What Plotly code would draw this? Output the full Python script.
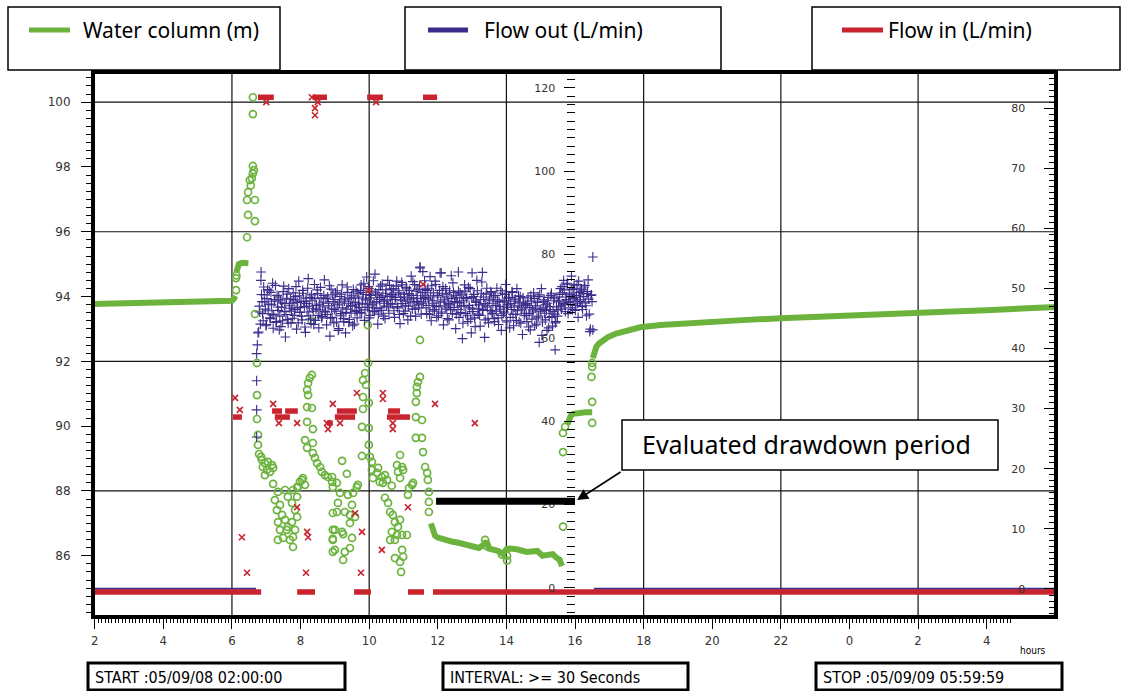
import numpy as np
import plotly.graph_objects as go

# ---------------- axis text ----------------
x_tickvals = [2, 4, 6, 8, 10, 12, 14, 16, 18, 20, 22, 24, 26, 28]
x_ticktext = ["2", "4", "6", "8", "10", "12", "14", "16", "18", "20", "22", "0", "2", "4"]
grid_hours = [6, 10, 14, 18, 22, 26]
grid_levels = [88, 92, 96, 100]

# ---------------- Water column (m), left axis ----------------
wc_line_x = [1.95, 3.0, 4.0, 5.0, 5.8, 6.0, 6.06, 6.1, None,
             6.13, 6.16, 6.2, 6.3, 6.4, 6.48, None,
             11.8, 11.85, 11.92, 12.0, 12.15, 12.4, 12.6, 12.9, 13.2, 13.35, 13.42, 13.5, 13.75,
             13.9, 14.0, 14.1, 14.3, 14.6, 14.9, 15.05, 15.2, 15.35, 15.45, 15.55, 15.62, None,
             15.78, 15.82, 15.88, 15.95, 16.1, 16.3, 16.5, None,
             16.52, 16.56, 16.62, 16.7, 16.8, 16.95, 17.2, 17.5, 17.9, 18.5, 19, 20, 21, 22,
             23, 24, 25, 26, 27, 28, 29, 30.05]
wc_line_y = [93.77, 93.79, 93.81, 93.83, 93.85, 93.87, 93.93, 94.02, None,
             94.75, 94.92, 95.0, 95.04, 95.04, 95.03, None,
             87.0, 86.8, 86.62, 86.56, 86.5, 86.44, 86.4, 86.3, 86.24, 86.35, 86.45, 86.22, 86.15,
             86.05, 86.2, 86.22, 86.2, 86.12, 86.15, 86.0, 86.02, 86.05, 85.95, 85.88, 85.68, None,
             90.05, 90.25, 90.33, 90.38, 90.42, 90.43, 90.43, None,
             92.1, 92.3, 92.45, 92.55, 92.65, 92.74, 92.86, 92.96, 93.05, 93.12, 93.16, 93.22, 93.28, 93.33,
             93.38, 93.42, 93.46, 93.5, 93.54, 93.58, 93.63, 93.68]

wc_pts_x = [6.12, 6.12, 6.13, 6.44, 6.47, 6.67, 6.44, 6.67, 6.47, 6.55, 6.52, 6.58, 6.61, 6.64, 6.61, 6.61, 6.61,
            6.67, 8.32, 9.96, 11.48,
            6.73, 6.73, 6.73, 6.76, 6.76, 6.79, 6.87, 6.96, 7.05, 7.17, 6.9, 7.02, 7.11, 6.96, 7.2, 6.85,
            7.2, 7.34, 7.25, 7.4, 7.31, 7.46, 7.34, 7.55, 7.4, 7.6, 7.49, 7.69, 7.78, 7.84, 7.63, 7.75, 7.9,
            7.84, 7.75, 7.63, 7.9, 7.78, 7.55, 7.9, 7.98, 8.07, 7.34, 7.78, 8.04, 8.13, 7.92,
            8.19, 8.13, 8.36, 8.19, 8.36, 8.33, 8.19, 8.22, 8.19, 8.22, 8.27, 8.33,
            8.36, 8.42, 8.48, 8.57, 8.62, 8.71, 8.8, 8.92, 8.94, 8.94, 8.94, 8.94, 8.94,
            9.97, 9.88, 9.82, 9.91, 9.82, 9.99, 9.82, 9.79, 9.99, 9.99, 9.79, 10.02, 10.08,
            9.21, 9.35, 8.92, 9.06, 9.15, 9.67, 9.64, 9.53, 9.38, 9.09, 9.06, 9.29, 9.5, 9.44, 9.59,
            9.0, 9.21, 9.44, 9.5, 8.94, 9.24, 9.0, 9.29, 9.44, 9.24,
            10.08, 10.23, 10.37, 10.11, 10.31, 10.46, 10.26, 10.52, 10.4,
            10.9, 10.81, 10.96, 10.84, 10.99, 10.9, 10.66,
            11.25, 11.28, 11.16, 11.13,
            10.46, 10.55, 10.61, 10.69, 10.75, 10.9, 10.84, 10.66, 10.81, 10.96, 11.1, 10.61, 10.75,
            10.96, 10.99, 10.75, 10.9, 10.93,
            11.48, 11.42, 11.39, 11.39, 11.36, 11.36, 11.54, 11.36, 11.54,
            11.57, 11.63, 11.69, 11.71, 11.74, 11.74, 11.74,
            13.38, 13.42, 14.02, 14.02, 13.87,
            15.65, 15.65, 15.65, 15.71, 16.5, 16.5, 16.48, 16.5, 16.5]
wc_pts_y = [94.2, 94.57, 94.65, 95.83, 96.52, 96.33, 96.98, 96.98, 97.22, 97.43, 97.59, 97.65, 97.8, 97.9, 98.03, 99.63, 100.15,
            93.46, 93.25, 93.12, 92.66,
            91.95, 90.96, 90.22, 89.73, 89.42, 89.14, 88.96, 88.86, 88.9, 88.8, 88.74, 88.65, 88.59, 88.49, 88.71, 89.05,
            88.22, 87.97, 87.72, 87.57, 87.41, 87.26, 87.04, 87.11, 86.8, 86.8, 86.55, 86.49, 86.58, 86.8, 86.89, 87.04, 87.2,
            87.41, 87.63, 87.82, 87.82, 88.03, 88.03, 88.12, 88.28, 88.4, 86.49, 86.27, 88.34, 88.19, 88.12,
            89.33, 89.57, 89.48, 90.13, 89.91, 90.56, 90.59, 90.96, 91.12, 91.33, 91.49, 91.58,
            89.17, 89.02, 88.86, 88.74, 88.59, 88.49, 88.43, 88.28, 88.12, 87.32, 86.8, 86.49, 86.12,
            91.95, 91.64, 91.42, 91.27, 90.9, 90.72, 90.53, 89.98, 89.94, 89.42, 89.08, 89.05, 88.9,
            88.93, 88.53, 88.43, 88.25, 87.94, 88.19, 88.12, 87.94, 87.88, 87.63, 87.35, 87.35, 87.57, 87.26, 87.2,
            86.8, 86.74, 87.01, 86.55, 86.52, 86.67, 86.18, 86.12, 86.24, 85.87,
            88.65, 88.56, 88.43, 88.4, 88.28, 88.49, 88.71, 88.34, 88.25,
            89.11, 88.8, 88.74, 88.59, 88.65, 88.4, 88.16,
            88.19, 88.25, 88.09, 87.88,
            87.79, 87.63, 87.35, 87.26, 87.04, 87.11, 86.89, 86.74, 86.64, 86.64, 86.64, 86.49, 86.49,
            86.18, 85.97, 85.93, 85.81, 85.5,
            91.52, 91.36, 91.21, 91.02, 90.75, 90.28, 90.19, 89.64, 89.64,
            89.2, 88.74, 88.56, 88.34, 87.97, 87.66, 87.35,
            86.49, 86.3, 86.0, 85.85, 86.03,
            86.9, 89.2, 89.79, 89.98, 90.1, 90.75, 91.52, 91.83, 91.95]

# ---------------- Flow out (L/min), middle axis ----------------
fout_base_x = [1.95, 6.7, None, 16.55, 30.05]
fout_base_y = [-0.2, -0.2, None, -0.2, -0.2]
fout_rise_x = [6.72, 6.72, 6.72, 6.72, 6.74, 6.76]
fout_rise_y = [36.2, 42.7, 49.7, 56.2, 58.3, 61.2]
# pumping period readings: two interleaved logger channels sampled at a fixed interval
fout_start_a, fout_start_b, fout_end_a, fout_end_b = 6.78, 6.796, 16.48, 16.496
fout_cloud_a = [
    61.4, 66.2, 73.8, 68.7, 64.1, 70.3, 66.9, 63.2, 71.6, 68.1, 64.8, 70.9, 65.7, 62.3, 69.2, 72.6, 63.9, 67.4, 69.8, 65.2, 62.7, 68.4, 71.1, 66.3, 60.2, 69.5, 64.4, 71.8, 67.1, 63.6,
    68.3, 70.8, 65.4, 69.9, 62.1, 67.2, 73.6, 66.1, 68.8, 64.3, 70.7, 67.5, 61.3, 68.2, 71.9, 65.3, 69.7, 63.4, 68.9, 66.4, 72.8, 64.2, 67.8, 70.6, 62.4, 66.7, 69.6, 65.1, 68.6, 73.9,
    66.2, 63.1, 69.8, 67.7, 60.4, 71.7, 64.9, 68.7, 66.8, 70.8, 63.8, 67.9, 62.2, 69.9, 65.8, 72.7, 64.6, 68.8, 61.2, 66.9, 70.9, 63.7, 69.6, 65.9, 67.8, 71.6, 63.3, 68.5, 66.6, 70.7,
    69.8, 66.1, 72.7, 68.3, 70.9, 64.2, 69.1, 74.6, 67.3, 71.8, 65.4, 70.2, 67.9, 73.7, 66.3, 70.8, 68.7, 63.3, 71.6, 67.2, 69.7, 72.9, 65.2, 68.8, 70.7, 67.6, 73.8, 65.9, 69.9, 71.7,
    68.1, 71.8, 64.9, 69.7, 73.6, 67.2, 70.8, 63.4, 68.9, 72.7, 65.8, 69.8, 67.7, 71.9, 64.3, 70.6, 68.8, 74.8, 66.9, 69.6, 72.8, 65.2, 68.7, 71.7, 67.9, 76.8, 65.7, 70.9, 68.6, 73.7,
    69.7, 65.8, 71.9, 67.8, 74.7, 64.1, 68.9, 70.8, 66.8, 72.8, 64.9, 69.8, 67.7, 75.6, 65.9, 70.7, 63.1, 68.6, 71.8, 66.9, 69.8, 64.3, 67.9, 74.9, 65.8, 70.9, 68.7, 62.2, 69.6, 66.8,
    64.9, 70.8, 67.7, 59.8, 68.9, 72.7, 65.8, 69.7, 63.9, 67.8, 71.8, 61.2, 66.9, 69.9, 64.8, 68.8, 73.8, 65.7, 67.9, 62.8, 70.7, 66.8, 69.8, 60.1, 67.7, 71.9, 64.7, 68.9, 66.6, 70.8,
    65.8, 69.8, 63.9, 67.8, 71.9, 64.8, 68.7, 66.9, 61.8, 70.7, 65.9, 68.9, 72.8, 63.8, 67.9, 69.7, 64.9, 66.8, 70.9, 62.9, 68.8, 65.7, 71.8, 67.7, 63.8, 69.9, 66.7, 60.8, 68.6, 65.9,
    67.8, 63.9, 69.8, 65.8, 61.9, 68.8, 66.7, 70.8, 62.9, 67.7, 64.8, 69.9, 58.9, 66.8, 71.8, 63.8, 68.7, 65.9, 67.9, 61.8, 69.7, 64.9, 66.8, 70.7, 62.8, 68.9, 65.7, 63.9, 69.8, 66.7,
    68.9, 71.8, 66.9, 70.8, 73.8, 67.9, 69.8, 72.9, 65.8, 70.7, 68.8, 74.8, 66.8, 71.9, 69.7, 67.8, 72.8, 64.9, 70.9, 68.7, 71.7, 66.8, 69.9, 72.6, 67.7, 70.6, 73.9, 65.7, 62.1, 70.3]
fout_cloud_b = [
    67.6, 63.3, 70.4, 65.8, 72.2, 68.6, 62.9, 69.4, 66.5, 71.3, 64.6, 67.9, 73.1, 65.5, 68.8, 63.7, 70.2, 66.6, 61.9, 69.1, 67.3, 64.1, 72.4, 68.2, 65.6, 70.5, 63.5, 67.7, 69.3, 66.4,
    64.7, 69.1, 66.8, 72.3, 68.5, 63.6, 70.1, 67.3, 65.2, 71.4, 68.7, 62.6, 69.5, 66.2, 74.2, 67.6, 64.5, 70.3, 67.1, 63.2, 69.4, 66.9, 71.5, 65.4, 68.1, 72.1, 64.8, 67.4, 70.2, 66.3,
    69.4, 65.6, 68.3, 72.5, 64.7, 67.1, 70.3, 63.6, 69.2, 66.4, 71.3, 61.8, 68.4, 65.3, 70.5, 67.2, 63.9, 69.3, 66.1, 72.2, 68.3, 64.4, 67.6, 70.1, 62.9, 69.5, 66.3, 71.2, 64.8, 68.1,
    67.3, 71.4, 65.9, 69.5, 73.1, 66.7, 70.4, 68.1, 72.3, 64.8, 69.6, 71.2, 66.5, 68.4, 75.3, 67.1, 70.3, 65.7, 69.2, 72.4, 66.6, 70.1, 68.3, 64.6, 71.5, 69.1, 67.4, 72.6, 68.2, 70.4,
    70.3, 66.5, 69.2, 72.4, 67.5, 71.3, 65.6, 69.7, 73.3, 68.2, 70.5, 66.4, 72.1, 69.3, 67.6, 71.4, 65.2, 70.2, 73.5, 68.4, 66.9, 71.2, 69.4, 67.2, 72.5, 70.1, 68.3, 75.9, 69.5, 71.6,
    67.2, 71.4, 69.3, 65.6, 70.1, 72.5, 66.4, 68.3, 73.6, 67.5, 70.2, 65.3, 71.4, 68.6, 66.2, 72.3, 69.1, 67.4, 70.5, 64.6, 68.2, 71.3, 66.7, 69.4, 73.2, 67.3, 70.1, 65.7, 68.5, 71.2,
    68.4, 66.1, 70.3, 63.5, 67.6, 71.2, 69.4, 65.3, 72.1, 67.2, 64.5, 69.6, 66.3, 70.4, 62.7, 68.5, 71.3, 67.1, 65.4, 69.2, 73.4, 66.6, 68.2, 64.3, 70.5, 67.4, 63.6, 69.3, 71.1, 66.2,
    68.3, 64.6, 70.2, 66.4, 69.1, 63.2, 67.5, 71.3, 65.4, 68.6, 66.2, 70.4, 64.1, 67.3, 69.5, 62.4, 68.2, 71.1, 65.6, 67.4, 69.3, 64.2, 66.5, 70.1, 68.4, 63.5, 67.2, 69.6, 65.3, 68.1,
    65.4, 68.2, 62.6, 67.3, 70.1, 64.5, 66.2, 69.4, 67.1, 63.3, 68.5, 65.2, 70.3, 66.4, 60.6, 67.2, 69.1, 64.3, 66.6, 68.3, 62.4, 67.5, 70.2, 65.1, 66.3, 69.5, 63.6, 67.4, 65.2, 68.6,
    70.4, 67.6, 72.3, 68.2, 71.5, 66.3, 69.2, 73.1, 68.5, 70.3, 67.2, 71.6, 69.4, 72.5, 66.6, 70.2, 68.3, 73.6, 69.1, 71.2, 67.5, 70.6, 72.2, 68.4, 65.3, 71.1, 69.3, 61.5, 70.2, 68.7]
fout_extra_x = [15.42, 16.52, 16.52, 6.85, 11.48, 12.1, 12.6, 13.0, 13.3]
fout_extra_y = [57.1, 79.4, 61.9, 75.8, 77.0, 75.6, 75.8, 75.6, 75.7]

# ---------------- Flow in (L/min), right axis ----------------
fin_run_x = [1.95, 6.85, None, 7.9, 8.42, None, 9.56, 10.05, None, 11.13, 11.6, None, 11.86, 30.05, None,
             6.76, 7.22, None, 8.35, 8.77, None, 9.94, 10.4, None, 11.57, 11.98, None,
             6.03, 6.29, None, 7.17, 7.46, None, 7.25, 7.69, None, 7.55, 7.92, None,
             9.06, 9.64, None, 9.0, 9.59, None, 8.77, 8.94, None, 10.55, 10.9, None, 10.52, 11.19]
fin_run_y = [-0.5, -0.5, None, -0.5, -0.5, None, -0.5, -0.5, None, -0.5, -0.5, None, -0.5, -0.5, None,
             81.8, 81.8, None, 81.8, 81.8, None, 81.8, 81.8, None, 81.8, 81.8, None,
             28.6, 28.6, None, 29.6, 29.6, None, 28.6, 28.6, None, 29.6, 29.6, None,
             29.6, 29.6, None, 28.6, 28.6, None, 27.6, 27.6, None, 29.6, 29.6, None, 28.6, 28.6]
fin_pts_x = [6.09, 6.23, 7.2, 7.37, 7.9, 7.9, 8.19, 8.22, 6.29, 6.44, 8.16, 9.76, 9.79, 9.59, 10.37, 11.13,
             9.99, 11.57, 8.94, 9.15, 9.64, 10.4, 10.4, 10.69, 10.69, 11.92, 13.08, 8.33, 8.42, 8.42,
             8.5, 7.0, 10.2, 8.77, 8.8]
fin_pts_y = [31.8, 29.8, 30.8, 27.6, 27.6, 13.6, 9.5, 8.6, 8.6, 2.7, 2.7, 2.7, 9.5, 12.6, 6.5, 13.6,
             49.7, 50.7, 30.8, 27.6, 32.6, 32.6, 31.6, 27.6, 26.6, 30.8, 27.6, 81.8, 80.0, 78.8,
             81.0, 81.0, 81.0, 27.6, 26.6]

eval_x = [11.95, 16.0]
eval_level = 87.68

# ---------------- styling ----------------
GREEN = "#6cb33e"
BLUE = "#3a2d8c"
RED = "#c8232f"
TICKF = dict(family="DejaVu Sans, Verdana, sans-serif", size=11, color="#333333")
NARROW = "Liberation Sans Narrow, DejaVu Sans Condensed, Arial Narrow, sans-serif"
LEGF = "Noto Sans, Open Sans, sans-serif"

L, R, T, B = 93, 1056, 72, 617


def pxx(x):
    return (x - L) / (R - L)


def pxy(y):
    return (B - y) / (B - T)


t_a = np.linspace(fout_start_a, fout_end_a, len(fout_cloud_a))
t_b = np.linspace(fout_start_b, fout_end_b, len(fout_cloud_b))

fig = go.Figure()
fig.add_trace(go.Scatter(x=wc_line_x, y=wc_line_y, mode="lines", line=dict(color=GREEN, width=6),
                         yaxis="y", showlegend=False, hoverinfo="skip"))
fig.add_trace(go.Scatter(x=wc_pts_x, y=wc_pts_y, mode="markers",
                         marker=dict(symbol="circle-open", size=7, color=GREEN, line=dict(width=1.7, color=GREEN)),
                         yaxis="y", showlegend=False))
fig.add_trace(go.Scatter(x=fout_base_x, y=fout_base_y, mode="lines", line=dict(color=BLUE, width=2),
                         yaxis="y2", showlegend=False))
fig.add_trace(go.Scatter(x=list(t_a) + list(t_b) + fout_rise_x + fout_extra_x,
                         y=fout_cloud_a + fout_cloud_b + fout_rise_y + fout_extra_y, mode="markers",
                         marker=dict(symbol="cross-thin", size=7, color=BLUE, line=dict(width=1.1, color=BLUE)),
                         yaxis="y2", showlegend=False))
fig.add_trace(go.Scatter(x=fin_run_x, y=fin_run_y, mode="lines", line=dict(color=RED, width=5.5),
                         yaxis="y3", showlegend=False))
fig.add_trace(go.Scatter(x=fin_pts_x, y=fin_pts_y, mode="markers",
                         marker=dict(symbol="x-thin", size=6, color=RED, line=dict(width=1.6, color=RED)),
                         yaxis="y3", showlegend=False))

shapes = []
for h in grid_hours:
    shapes.append(dict(type="line", xref="x", yref="paper", x0=h, x1=h, y0=0, y1=1,
                       line=dict(color="#111111", width=1.2), layer="below"))
for lv in grid_levels:
    shapes.append(dict(type="line", xref="paper", yref="y", x0=0, x1=1, y0=lv, y1=lv,
                       line=dict(color="#111111", width=1.2), layer="below"))
shapes.append(dict(type="rect", xref="paper", yref="paper", x0=0, x1=1, y0=0, y1=1,
                   line=dict(color="black", width=4), fillcolor="rgba(0,0,0,0)", layer="above"))
shapes.append(dict(type="line", xref="x", yref="y", x0=eval_x[0], x1=eval_x[1], y0=eval_level, y1=eval_level,
                   line=dict(color="black", width=7), layer="above"))


def box(x0, y0, x1, y1, w, fill="white"):
    shapes.append(dict(type="rect", xref="paper", yref="paper", x0=pxx(x0), x1=pxx(x1), y0=pxy(y1), y1=pxy(y0),
                       line=dict(color="black", width=w), fillcolor=fill, layer="above"))


def seg(x0, x1, y, color, w):
    shapes.append(dict(type="line", xref="paper", yref="paper", x0=pxx(x0), x1=pxx(x1), y0=pxy(y), y1=pxy(y),
                       line=dict(color=color, width=w), layer="above"))


annotations = []


def text(x, y, s, size, family, anchor="left", color="black"):
    annotations.append(dict(xref="paper", yref="paper", x=pxx(x), y=pxy(y), text=s, showarrow=False,
                            xanchor=anchor, yanchor="middle", font=dict(size=size, family=family, color=color)))


legend_items = [("Water column (m)", GREEN, 8, 280, 29, 70, 81),
                ("Flow out (L/min)", BLUE, 405, 721, 428, 468, 482),
                ("Flow in (L/min)", RED, 812, 1120, 842, 883, 886)]
for name, col, bx0, bx1, lx0, lx1, tx in legend_items:
    box(bx0, 7, bx1, 70, 1.5)
    seg(lx0, lx1, 30, col, 5)
    text(tx, 30, name, 21, LEGF)

info = [("START :05/09/08 02:00:00", 88, 345), ("INTERVAL: &gt;= 30 Seconds", 443, 688),
        ("STOP :05/09/09 05:59:59", 816, 1062)]
for s, bx0, bx1 in info:
    box(bx0, 663, bx1, 690, 3)
    text(bx0 + 5, 677, s, 16, NARROW)

text(1033, 651, "hours", 10, NARROW, anchor="center")

box(622, 420, 998, 470, 1.5)
text(806, 444, "Evaluated drawdown period", 25, LEGF, anchor="center")
annotations.append(dict(xref="x", yref="y", x=16.06, y=87.72, ax=45, ay=-29, text="", showarrow=True,
                        arrowhead=2, arrowsize=1.4, arrowwidth=1.6, arrowcolor="black"))

fig.update_layout(
    width=1130, height=691,
    margin=dict(l=L, r=1130 - R, t=T, b=691 - B),
    paper_bgcolor="white", plot_bgcolor="white",
    showlegend=False,
    xaxis=dict(range=[1.95, 30.02], tickmode="array", tickvals=x_tickvals, ticktext=x_ticktext,
               ticks="outside", ticklen=11, tickwidth=1.2, tickcolor="black",
               minor=dict(tickmode="linear", tick0=2, dtick=0.1, ticks="outside", ticklen=5, tickcolor="black", tickwidth=1),
               showgrid=False, zeroline=False, showline=False,
               tickfont=dict(family=NARROW, size=13, color="#333333")),
    yaxis=dict(range=[84.11, 100.93], tickmode="linear", tick0=84, dtick=2,
               ticks="outside", ticklen=11, tickwidth=1.2, tickcolor="black", ticklabelstandoff=8,
               minor=dict(tickmode="linear", tick0=84, dtick=0.25, ticks="outside", ticklen=6, tickcolor="black", tickwidth=1),
               showgrid=False, zeroline=False, showline=False, tickfont=dict(TICKF, size=12)),
    yaxis2=dict(overlaying="y", anchor="free", position=0.5, side="left",
                range=[-7.0, 123.8], tickmode="linear", tick0=0, dtick=20,
                ticks="outside", ticklen=11, tickwidth=1.2, tickcolor="black", ticklabelstandoff=6,
                minor=dict(tickmode="linear", tick0=0, dtick=2, ticks="outside", ticklen=8, tickcolor="black", tickwidth=1.2),
                showgrid=False, zeroline=False, showline=False, tickfont=TICKF),
    yaxis3=dict(overlaying="y", anchor="x", side="right",
                range=[-4.66, 86.0], tickmode="linear", tick0=0, dtick=10,
                ticks="inside", ticklen=12, tickwidth=1.2, tickcolor="black", ticklabelposition="inside",
                ticklabelstandoff=18,
                minor=dict(tickmode="linear", tick0=0, dtick=1, ticks="inside", ticklen=7, tickcolor="black", tickwidth=1),
                showgrid=False, zeroline=False, showline=False, tickfont=TICKF),
    shapes=shapes,
    annotations=annotations,
)

fig.write_html("out.html")
